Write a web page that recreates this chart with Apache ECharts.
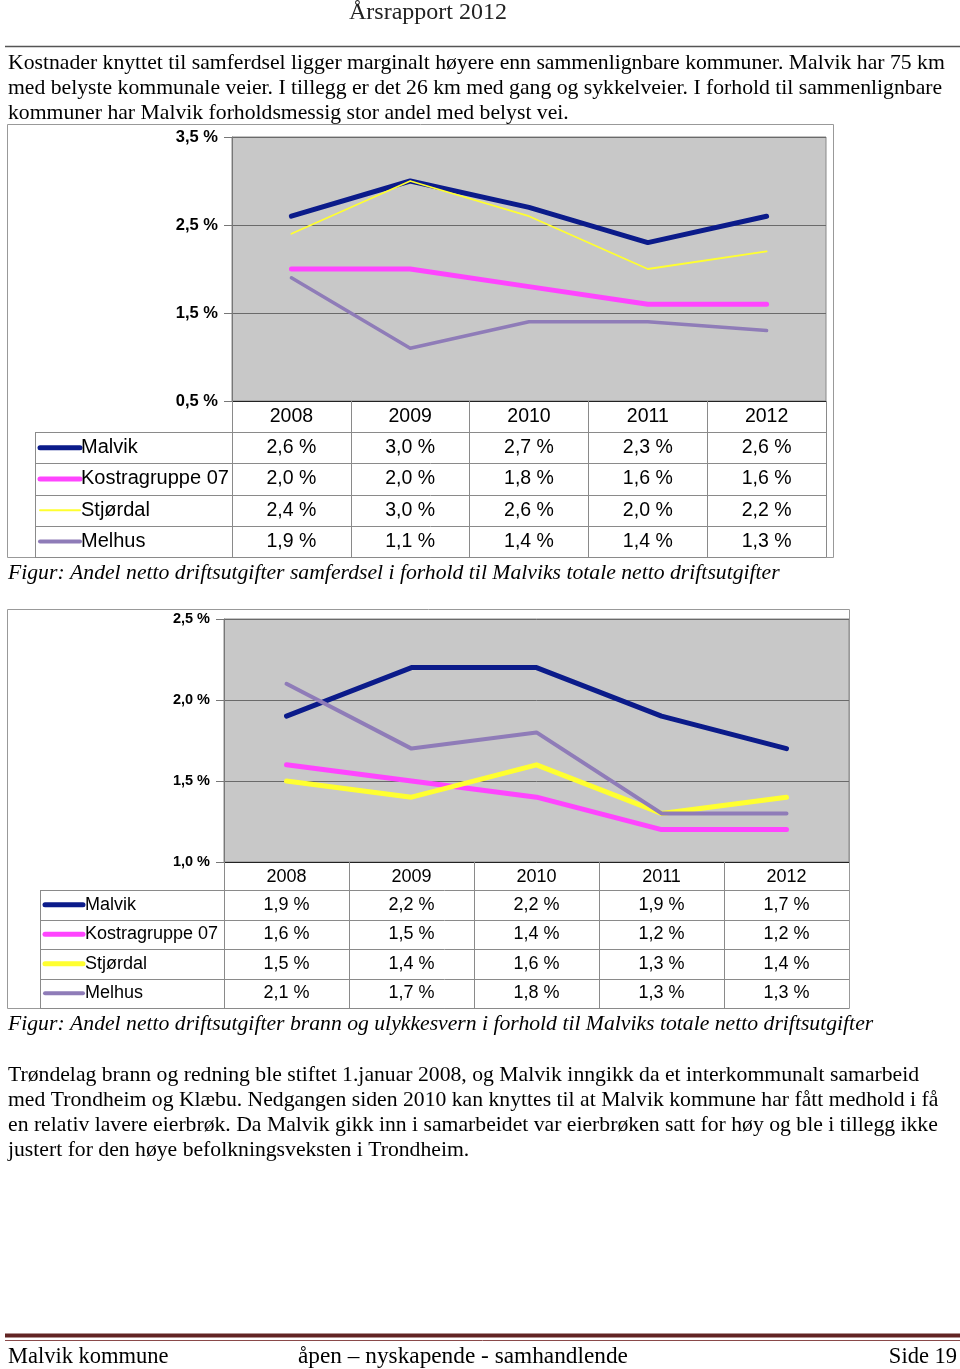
<!DOCTYPE html>
<html><head><meta charset="utf-8">
<script src="https://cdn.jsdelivr.net/npm/echarts@6/dist/echarts.min.js"></script>
<style>html,body{margin:0;padding:0;background:#fff}#c{width:960px;height:1369px}</style>
</head><body><div id="c"></div>
<script>
// ---------- data ----------
const years = ['2008', '2009', '2010', '2011', '2012'];
const seriesNames = ['Malvik', 'Kostragruppe 07', 'Stjørdal', 'Melhus'];

const samferdselMalvik = [2.6, 3.0, 2.7, 2.3, 2.6];
const samferdselKostra = [2.0, 2.0, 1.8, 1.6, 1.6];
const samferdselStjordal = [2.4, 3.0, 2.6, 2.0, 2.2];
const samferdselMelhus = [1.9, 1.1, 1.4, 1.4, 1.3];

const brannMalvik = [1.9, 2.2, 2.2, 1.9, 1.7];
const brannKostra = [1.6, 1.5, 1.4, 1.2, 1.2];
const brannStjordal = [1.5, 1.4, 1.6, 1.3, 1.4];
const brannMelhus = [2.1, 1.7, 1.8, 1.3, 1.3];

const yTicksSamferdsel = [0.5, 1.5, 2.5, 3.5];
const yTicksBrann = [1.0, 1.5, 2.0, 2.5];

const headerText = 'Årsrapport 2012';
const para1 = [
  'Kostnader knyttet til samferdsel ligger marginalt høyere enn sammenlignbare kommuner. Malvik har 75 km',
  'med belyste kommunale veier. I tillegg er det 26 km med gang og sykkelveier. I forhold til sammenlignbare',
  'kommuner har Malvik forholdsmessig stor andel med belyst vei.'
];
const caption1 = 'Figur: Andel netto driftsutgifter samferdsel i forhold til Malviks totale netto driftsutgifter';
const caption2 = 'Figur: Andel netto driftsutgifter brann og ulykkesvern i forhold til Malviks totale netto driftsutgifter';
const para2 = [
  'Trøndelag brann og redning ble stiftet 1.januar 2008, og Malvik inngikk da et interkommunalt samarbeid',
  'med Trondheim og Klæbu. Nedgangen siden 2010 kan knyttes til at Malvik kommune har fått medhold i få',
  'en relativ lavere eierbrøk. Da Malvik gikk inn i samarbeidet var eierbrøken satt for høy og ble i tillegg ikke',
  'justert for den høye befolkningsveksten i Trondheim.'
];
const footerLeft = 'Malvik kommune';
const footerMid = 'åpen – nyskapende - samhandlende';
const footerRight = 'Side 19';

// ---------- styles ----------
const colors = ['#0b1b8a', '#ff45ff', '#ffff30', '#8f7cb8'];
const widths1 = [5, 5, 1.8, 3.5];
const widths2 = [5, 5, 5, 4];
const swatch1 = [5, 5, 2, 4];
const swatch2 = [5, 5, 5, 4];
const plotBg = '#c8c8c8';
const tableLine = '#8a8a8a';

const C1 = { left: 232, top: 137, width: 594, height: 264, rowTop: 432, rowH: 31.25, legLeft: 35, swX0: 40, swX1: 80, txtX: 81, font: 20, valFont: 19.5, axisFont: 16.5 };
const C2 = { left: 224, top: 619, width: 625, height: 243, rowTop: 890, rowH: 29.5, legLeft: 40, swX0: 45, swX1: 83, txtX: 85, font: 18, valFont: 18, axisFont: 14.5 };
const tbl1Bottom = C1.rowTop + 4 * C1.rowH;
const tbl2Bottom = C2.rowTop + 4 * C2.rowH;

const fmt = v => v.toFixed(1).replace('.', ',') + ' %';
const data1 = [samferdselMalvik, samferdselKostra, samferdselStjordal, samferdselMelhus];
const data2 = [brannMalvik, brannKostra, brannStjordal, brannMelhus];

function xAxisCfg(gi, C, bottom) {
  return {
    type: 'category', gridIndex: gi, data: years, boundaryGap: true,
    axisLine: { show: true, lineStyle: { color: '#222', width: 1 } },
    axisTick: { show: true, inside: false, length: bottom - (C.top + C.height), lineStyle: { color: tableLine, width: 1 } },
    axisLabel: { margin: 6, fontFamily: 'Liberation Sans, Arial', fontSize: C.valFont, color: '#000' },
    splitLine: { show: false }
  };
}
function yAxisCfg(gi, C, min, max, interval, ticks) {
  return {
    type: 'value', gridIndex: gi, min: min, max: max, interval: interval,
    axisLine: { show: true, lineStyle: { color: '#777', width: 1 } },
    axisTick: { show: true, inside: false, length: 8, customValues: ticks, lineStyle: { color: '#777' } },
    axisLabel: { customValues: ticks, margin: 14, fontFamily: 'Liberation Sans, Arial', fontWeight: 'bold', fontSize: C.axisFont, color: '#000', formatter: fmt },
    splitLine: { show: true, lineStyle: { color: '#6a6a6a', width: 1 } }
  };
}
function seriesCfg(data, gi, widths) {
  return data.map((d, i) => ({
    name: seriesNames[i], type: 'line', xAxisIndex: gi, yAxisIndex: gi, data: d,
    symbol: 'none', smooth: false, silent: true, animation: false,
    lineStyle: { color: colors[i], width: widths[i], cap: 'round', join: 'round' },
    itemStyle: { color: colors[i] }
  }));
}

const chart = echarts.init(document.getElementById('c'));
chart.setOption({
  animation: false,
  grid: [
    { left: C1.left, top: C1.top, width: C1.width, height: C1.height, show: true, backgroundColor: plotBg, borderColor: '#888', borderWidth: 1, containLabel: false },
    { left: C2.left, top: C2.top, width: C2.width, height: C2.height, show: true, backgroundColor: plotBg, borderColor: '#888', borderWidth: 1, containLabel: false }
  ],
  xAxis: [xAxisCfg(0, C1, tbl1Bottom), xAxisCfg(1, C2, tbl2Bottom)],
  yAxis: [yAxisCfg(0, C1, 0.5, 3.5, 0.5, yTicksSamferdsel), yAxisCfg(1, C2, 1.0, 2.5, 0.5, yTicksBrann)],
  series: seriesCfg(data1, 0, widths1).concat(seriesCfg(data2, 1, widths2))
});

// ---------- page graphics ----------
const g = [];
const serif = 'Liberation Serif, Times New Roman, serif';
function txt(x, y, text, font, align, color) {
  g.push({ type: 'text', silent: true, z: 10, style: { x: x, y: y, text: text, font: font, fill: color || '#000', textAlign: align || 'left', textVerticalAlign: 'middle' } });
}
function line(x1, y1, x2, y2, color, w, z) {
  g.push({ type: 'line', silent: true, z: z || 5, shape: { x1: x1, y1: y1, x2: x2, y2: y2 }, style: { stroke: color, lineWidth: w || 1 } });
}
function rect(x, y, w, h, color) {
  g.push({ type: 'rect', silent: true, z: 1, shape: { x: x, y: y, width: w, height: h }, style: { fill: 'none', stroke: color, lineWidth: 1 } });
}

// header
txt(428, 13, headerText, '24px ' + serif, 'center', '#222');
line(5, 46.5, 960, 46.5, '#555', 1.5);
para1.forEach((t, i) => txt(8, 63 + i * 25, t, '21.7px ' + serif));

// frames
rect(7.5, 124.5, 826, 433, '#999');
rect(7.5, 609.5, 842, 399, '#999');

function table(C, data, gi, bottom, swatchW) {
  const xs = years.map(y => chart.convertToPixel({ xAxisIndex: gi }, y));
  const right = C.left + C.width;
  for (let i = 0; i <= 4; i++) {
    const y = Math.round(C.rowTop + i * C.rowH) + 0.5;
    line(C.legLeft, y, right, y, tableLine, 1);
  }
  line(C.legLeft + 0.5, C.rowTop, C.legLeft + 0.5, bottom, tableLine, 1);
  data.forEach((d, i) => {
    const cy = C.rowTop + (i + 0.5) * C.rowH;
    line(C.swX0, cy, C.swX1, cy, colors[i], swatchW[i], 6);
    g[g.length - 1].style.lineCap = 'round';
    txt(C.txtX, cy, seriesNames[i], C.font + 'px Liberation Sans, Arial', 'left');
    d.forEach((v, j) => txt(xs[j], cy, fmt(v), C.valFont + 'px Liberation Sans, Arial', 'center'));
  });
}
table(C1, data1, 0, tbl1Bottom, swatch1);
table(C2, data2, 1, tbl2Bottom, swatch2);

txt(8, 573, caption1, 'italic 21.7px ' + serif);
txt(8, 1024, caption2, 'italic 21.7px ' + serif);
para2.forEach((t, i) => txt(8, 1075 + i * 25, t, '21.7px ' + serif));

// footer
line(5, 1335.5, 960, 1335.5, '#622423', 4);
line(5, 1340.5, 960, 1340.5, '#8a4a4a', 1);
txt(8, 1357, footerLeft, '22.5px ' + serif);
txt(298, 1357, footerMid, '23.3px ' + serif);
txt(957, 1357, footerRight, '22.5px ' + serif, 'right');

chart.setOption({ graphic: g });
</script>
</body></html>
